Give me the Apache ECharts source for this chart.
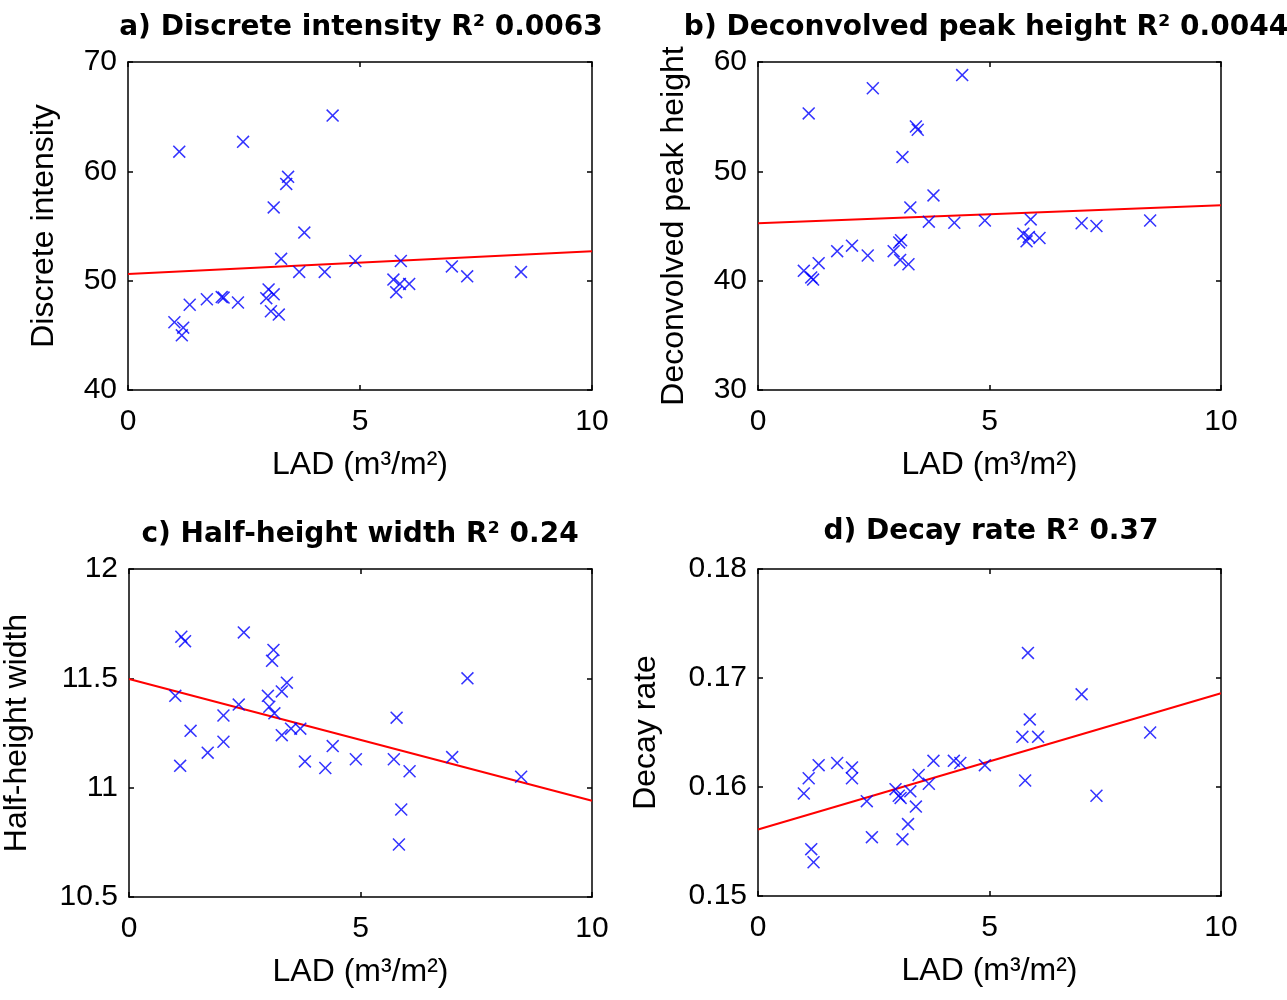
<!DOCTYPE html>
<html>
<head>
<meta charset="utf-8">
<script src="https://cdn.jsdelivr.net/npm/echarts@6/dist/echarts.min.js"></script>
<style>html,body{margin:0;padding:0;background:#fff;}#c{width:1287px;height:1000px;}</style>
</head>
<body>
<div id="c"></div>
<script>
// ---- Data ----
const xTicks = [0, 5, 10];
const fitX = [0, 10];

const aX = [1.00, 1.19, 1.16, 1.105, 1.33, 1.70, 2.02, 2.06, 2.37, 2.48, 2.98, 3.03, 3.08, 3.14, 3.14, 3.25, 3.30, 3.41, 3.45, 3.69, 3.80, 4.24, 4.41, 4.90, 5.72, 5.78, 5.86, 5.88, 6.06, 6.98, 7.31, 8.47];
const aY = [46.2, 45.7, 45.0, 61.8, 47.8, 48.3, 48.5, 48.45, 48.0, 62.7, 48.4, 49.2, 47.2, 48.75, 56.7, 46.9, 52.0, 58.85, 59.5, 50.8, 54.4, 50.8, 65.1, 51.8, 50.1, 48.95, 49.7, 51.8, 49.7, 51.3, 50.4, 50.8];
const aFit = [50.6, 52.7];

const bX = [0.99, 1.095, 1.15, 1.19, 1.31, 1.71, 2.03, 2.37, 2.48, 2.93, 3.05, 3.09, 3.07, 3.12, 3.25, 3.29, 3.41, 3.45, 3.69, 3.79, 4.24, 4.41, 4.90, 5.73, 5.80, 5.85, 5.89, 6.08, 6.99, 7.31, 8.47];
const bY = [40.9, 55.3, 40.3, 40.1, 41.6, 42.7, 43.2, 42.3, 57.6, 42.7, 43.5, 43.7, 41.9, 51.3, 41.5, 46.7, 54.1, 53.8, 45.4, 47.8, 45.3, 58.8, 45.5, 44.3, 43.6, 44.0, 45.6, 43.9, 45.25, 45.0, 45.5];
const bFit = [45.25, 46.9];

const cX = [1.00, 1.105, 1.13, 1.21, 1.33, 1.70, 2.04, 2.04, 2.37, 2.48, 3.00, 3.03, 3.09, 3.12, 3.14, 3.30, 3.30, 3.41, 3.50, 3.70, 3.80, 4.24, 4.40, 4.90, 5.72, 5.78, 5.83, 5.88, 6.06, 6.98, 7.31, 8.47];
const cY = [11.42, 11.10, 11.69, 11.67, 11.26, 11.16, 11.33, 11.21, 11.38, 11.71, 11.42, 11.37, 11.58, 11.63, 11.34, 11.44, 11.24, 11.48, 11.27, 11.27, 11.12, 11.09, 11.19, 11.13, 11.13, 11.32, 10.74, 10.90, 11.075, 11.14, 11.50, 11.05];
const cFit = [11.497, 10.94];

const dX = [0.99, 1.095, 1.15, 1.20, 1.31, 1.71, 2.03, 2.03, 2.35, 2.46, 2.97, 3.04, 3.08, 3.12, 3.24, 3.29, 3.41, 3.47, 3.69, 3.79, 4.23, 4.37, 4.90, 5.71, 5.77, 5.83, 5.87, 6.05, 6.99, 7.31, 8.47];
const dY = [0.1594, 0.1608, 0.1543, 0.1531, 0.1620, 0.1622, 0.1618, 0.1608, 0.1587, 0.1554, 0.1598, 0.1592, 0.1590, 0.1552, 0.1566, 0.1596, 0.1582, 0.1611, 0.1603, 0.1624, 0.1624, 0.1622, 0.1620, 0.1646, 0.1606, 0.1723, 0.1662, 0.1646, 0.1685, 0.1592, 0.1650];
const dFit = [0.1561, 0.1686];

const titles = ['a) Discrete intensity R² 0.0063', 'b) Deconvolved peak height R² 0.0044', 'c) Half-height width R² 0.24', 'd) Decay rate R² 0.37'];
const yNames = ['Discrete intensity', 'Deconvolved peak height', 'Half-height width', 'Decay rate'];
const xName = 'LAD (m³/m²)';
const yRanges = [[40, 70, 10], [30, 60, 10], [10.5, 12, 0.5], [0.15, 0.18, 0.01]];

// ---- Layout ----
const grids = [
  {left: 128, top: 62, width: 464, height: 328},
  {left: 758, top: 62, width: 463, height: 328},
  {left: 128, top: 569, width: 464, height: 328},
  {left: 758, top: 569, width: 463, height: 327}
];
const titlePos = [[356, 9], [981, 9], [355, 516], [986, 513]];
const yNameGap = [68, 68, 96, 96];

const xs = [aX, bX, cX, dX], ys = [aY, bY, cY, dY], fits = [aFit, bFit, cFit, dFit];
const FONT = 'Liberation Sans, Arial, sans-serif';
const crossPath = 'path://M0,1L1,0L6,5L11,0L12,1L7,6L12,11L11,12L6,7L1,12L0,11L5,6Z';

const option = {animation: false, backgroundColor: '#fff', title: [], grid: [], xAxis: [], yAxis: [], series: []};
const lineStyle = {color: '#000', width: 1.5};
for (let i = 0; i < 4; i++) {
  option.title.push({text: titles[i], left: titlePos[i][0], top: titlePos[i][1], textAlign: 'center',
    textStyle: {fontFamily: 'DejaVu Sans, ' + FONT, fontWeight: 'bold', fontSize: 28, color: '#000'}});
  option.grid.push(grids[i]);
  const xa = {type: 'value', min: xTicks[0], max: xTicks[xTicks.length - 1], interval: 5, splitLine: {show: false},
    axisLine: {show: true, onZero: false, lineStyle: lineStyle}, axisTick: {show: true, inside: true, length: 5, lineStyle: lineStyle}};
  option.xAxis.push(Object.assign({}, xa, {gridIndex: i, position: 'bottom', name: xName, nameLocation: 'middle', nameGap: 59,
    nameTextStyle: {fontFamily: FONT, fontSize: 32, color: '#000'},
    axisLabel: {fontFamily: FONT, fontSize: 30, color: '#000', margin: 17}}));
  option.xAxis.push(Object.assign({}, xa, {gridIndex: i, position: 'top', axisLabel: {show: false}}));
  const r = yRanges[i];
  const ya = {type: 'value', min: r[0], max: r[1], interval: r[2], splitLine: {show: false},
    axisLine: {show: true, onZero: false, lineStyle: lineStyle}, axisTick: {show: true, inside: true, length: 5, lineStyle: lineStyle}};
  option.yAxis.push(Object.assign({}, ya, {gridIndex: i, position: 'left', name: yNames[i], nameLocation: 'middle', nameGap: yNameGap[i],
    nameTextStyle: {fontFamily: FONT, fontSize: 32, color: '#000'},
    axisLabel: {fontFamily: FONT, fontSize: 30, color: '#000', margin: 11,
      formatter: v => String(parseFloat(v.toFixed(4)))}}));
  option.yAxis.push(Object.assign({}, ya, {gridIndex: i, position: 'right', axisLabel: {show: false}}));
  option.series.push({type: 'scatter', xAxisIndex: 2 * i, yAxisIndex: 2 * i,
    data: xs[i].map((x, k) => [x, ys[i][k]]), symbol: crossPath, symbolSize: 13,
    itemStyle: {color: '#0000ff'}, z: 3});
  option.series.push({type: 'line', xAxisIndex: 2 * i, yAxisIndex: 2 * i,
    data: fitX.map((x, k) => [x, fits[i][k]]), showSymbol: false, symbol: 'none',
    lineStyle: {color: '#ff0000', width: 2}, z: 2});
}
const chart = echarts.init(document.getElementById('c'));
chart.setOption(option);
</script>
</body>
</html>
